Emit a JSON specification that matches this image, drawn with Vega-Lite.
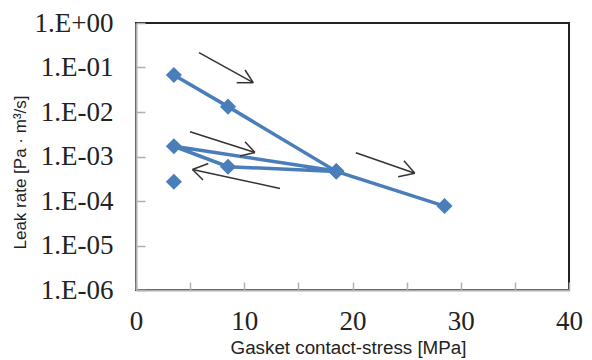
{
  "$schema": "https://vega.github.io/schema/vega-lite/v6.json",
  "width": 433,
  "height": 267,
  "autosize": {"type": "none"},
  "padding": {"left": 136, "top": 23, "right": 23, "bottom": 70},
  "background": "white",
  "config": {
    "view": {"stroke": "#222222", "strokeWidth": 2},
    "axis": {"grid": false}
  },
  "datasets": {
    "series": [
      {"path": "A", "ord": 1, "stress": 3.5, "leak": 0.068},
      {"path": "A", "ord": 2, "stress": 8.5, "leak": 0.0132},
      {"path": "A", "ord": 3, "stress": 18.5, "leak": 0.00046},
      {"path": "A", "ord": 4, "stress": 28.5, "leak": 0.000077},
      {"path": "B", "ord": 1, "stress": 18.5, "leak": 0.00046},
      {"path": "B", "ord": 2, "stress": 8.5, "leak": 0.00059},
      {"path": "B", "ord": 3, "stress": 3.5, "leak": 0.0017},
      {"path": "B", "ord": 4, "stress": 18.5, "leak": 0.00047},
      {"path": "C", "ord": 1, "stress": 3.5, "leak": 0.00027}
    ],
    "arrows": [
      {"x": 5.82, "y": 0.2151, "x2": 10.83, "y2": 0.04554},
      {"x": 10.83, "y": 0.04554, "x2": 10.07, "y2": 0.0879},
      {"x": 10.83, "y": 0.04554, "x2": 9.30, "y2": 0.04554},
      {"x": 4.99, "y": 0.003609, "x2": 10.99, "y2": 0.00123},
      {"x": 10.99, "y": 0.00123, "x2": 10.07, "y2": 0.00215},
      {"x": 10.99, "y": 0.00123, "x2": 9.60, "y2": 0.001026},
      {"x": 13.30, "y": 0.000191, "x2": 5.22, "y2": 0.0005104},
      {"x": 5.22, "y": 0.0005104, "x2": 6.68, "y2": 0.0006965},
      {"x": 5.22, "y": 0.0005104, "x2": 6.19, "y2": 0.0002963},
      {"x": 20.31, "y": 0.001217, "x2": 25.76, "y2": 0.0004193},
      {"x": 25.76, "y": 0.0004193, "x2": 24.75, "y2": 0.0008044},
      {"x": 25.76, "y": 0.0004193, "x2": 24.22, "y2": 0.0003516}
    ]
  },
  "layer": [
    {
      "data": {"name": "series"},
      "mark": {"type": "line", "color": "#4A7EBB", "strokeWidth": 3.5},
      "encoding": {
        "x": {
          "field": "stress", "type": "quantitative",
          "scale": {"domain": [0, 40], "nice": false, "zero": false},
          "axis": {
            "title": "Gasket contact-stress [MPa]",
            "values": [0, 5, 10, 15, 20, 25, 30, 35, 40],
            "labelExpr": "datum.value % 10 === 0 ? datum.label : ''",
            "labelFlush": false,
            "labelFont": "Liberation Serif", "labelFontSize": 27, "labelColor": "#222222",
            "labelPadding": 26,
            "domainColor": "#b0b0b0", "domainWidth": 2,
            "tickColor": "#b0b0b0", "tickSize": -8, "tickWidth": 1.5,
            "titleFont": "Liberation Sans", "titleFontSize": 18.8, "titleFontWeight": "normal", "titleColor": "#222222",
            "titleX": 212, "titleY": 57, "titleBaseline": "middle", "titleAlign": "center"
          }
        },
        "y": {
          "field": "leak", "type": "quantitative",
          "scale": {"type": "log", "domain": [0.000001, 1], "nice": false},
          "axis": {
            "title": "Leak rate [Pa · m³/s]",
            "values": [0.000001, 0.00001, 0.0001, 0.001, 0.01, 0.1, 1],
            "labelExpr": "datum.value >= 0.5 ? '1.E+00' : '1.E-0' + format(round(-log(datum.value)/LN10), 'd')",
            "labelFlush": false,
            "labelFont": "Liberation Serif", "labelFontSize": 27, "labelColor": "#222222",
            "labelPadding": 32,
            "domainColor": "#b0b0b0", "domainWidth": 2,
            "tickColor": "#b0b0b0", "tickSize": -9, "tickWidth": 1.5,
            "titleFont": "Liberation Sans", "titleFontSize": 17, "titleFontWeight": "normal", "titleColor": "#222222",
            "titleAngle": -90, "titleX": -116, "titleY": 149, "titleBaseline": "middle", "titleAlign": "center"
          }
        },
        "detail": {"field": "path"},
        "order": {"field": "ord"}
      }
    },
    {
      "data": {"name": "series"},
      "mark": {"type": "point", "shape": "diamond", "filled": true, "color": "#4A7EBB", "opacity": 1, "size": 260},
      "encoding": {
        "x": {"field": "stress", "type": "quantitative"},
        "y": {"field": "leak", "type": "quantitative"}
      }
    },
    {
      "data": {"name": "arrows"},
      "mark": {"type": "rule", "color": "#333333", "strokeWidth": 1.5},
      "encoding": {
        "x": {"field": "x", "type": "quantitative"},
        "y": {"field": "y", "type": "quantitative"},
        "x2": {"field": "x2"},
        "y2": {"field": "y2"}
      }
    }
  ]
}
